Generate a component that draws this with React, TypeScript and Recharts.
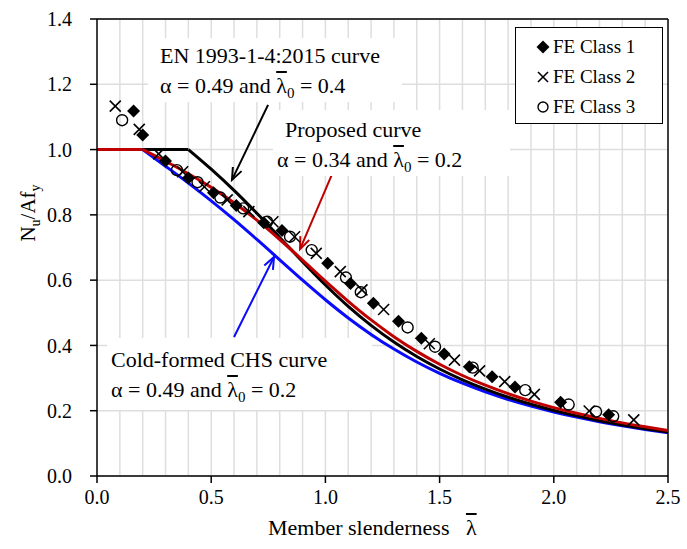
import React from "react";
import {
  ComposedChart,
  Line,
  Scatter,
  XAxis,
  YAxis,
  CartesianGrid,
  ReferenceLine,
  Legend,
} from "recharts";

/* ================= DATA ================= */

// slenderness grid for curves with lambda0 = 0.2
const curveX = [
  0, 0.2, 0.3, 0.4, 0.5, 0.6, 0.7, 0.8, 0.9, 1.0, 1.1, 1.2, 1.3, 1.4, 1.5, 1.6,
  1.7, 1.8, 1.9, 2.0, 2.1, 2.2, 2.3, 2.4, 2.5,
];
const coldFormedY = [
  1, 1, 0.9491, 0.8973, 0.843, 0.7854, 0.7247, 0.6622, 0.5998, 0.5399, 0.4842,
  0.4338, 0.3888, 0.3492, 0.3145, 0.2842, 0.2577, 0.2345, 0.2141, 0.1962,
  0.1803, 0.1662, 0.1537, 0.1425, 0.1325,
];
const proposedY = [
  1, 1, 0.9641, 0.9261, 0.8842, 0.8371, 0.7837, 0.7245, 0.6612, 0.597, 0.5352,
  0.4781, 0.4269, 0.3817, 0.3422, 0.3079, 0.2781, 0.2521, 0.2294, 0.2095,
  0.192, 0.1765, 0.1628, 0.1506, 0.1397,
];

// EN 1993-1-4 curve, lambda0 = 0.4
const enX = [
  0, 0.4, 0.5, 0.6, 0.7, 0.8, 0.9, 1.0, 1.1, 1.2, 1.3, 1.4, 1.5, 1.6, 1.7, 1.8,
  1.9, 2.0, 2.1, 2.2, 2.3, 2.4, 2.5,
];
const enY = [
  1, 1, 0.9398, 0.8748, 0.8047, 0.7309, 0.6565, 0.5852, 0.5197, 0.4613,
  0.4102, 0.3659, 0.3277, 0.2947, 0.2661, 0.2413, 0.2197, 0.2008, 0.1841,
  0.1694, 0.1564, 0.1448, 0.1344,
];

// FE results
const class1X = [
  0.16, 0.2, 0.3, 0.4, 0.51, 0.61, 0.73, 0.81, 1.01, 1.11, 1.21, 1.32, 1.42,
  1.52, 1.63, 1.73, 1.83, 2.03, 2.24,
];
const class1Y = [
  1.118, 1.045, 0.965, 0.913, 0.868, 0.829, 0.776, 0.752, 0.652, 0.59, 0.529,
  0.474, 0.422, 0.374, 0.335, 0.304, 0.273, 0.226, 0.188,
];
const class2X = [
  0.08, 0.185, 0.27, 0.375, 0.47, 0.57, 0.665, 0.77, 0.865, 0.96, 1.065, 1.16,
  1.255, 1.455, 1.565, 1.675, 1.785, 1.915, 2.155, 2.35,
];
const class2Y = [
  1.133, 1.062, 0.987, 0.932, 0.886, 0.846, 0.81, 0.779, 0.733, 0.682, 0.626,
  0.57, 0.51, 0.405, 0.355, 0.322, 0.289, 0.25, 0.199, 0.172,
];
const class3X = [
  0.11, 0.35, 0.44, 0.54, 0.64, 0.745, 0.845, 0.94, 1.09, 1.155, 1.36, 1.48,
  1.645, 1.875, 2.065, 2.185, 2.26,
];
const class3Y = [
  1.09, 0.937, 0.9, 0.853, 0.82, 0.779, 0.733, 0.692, 0.608, 0.563, 0.455,
  0.396, 0.332, 0.263, 0.219, 0.197, 0.183,
];

const xTicks = [0, 0.5, 1.0, 1.5, 2.0, 2.5];
const yTicks = [0, 0.2, 0.4, 0.6, 0.8, 1.0, 1.2, 1.4];
const gridX = [
  0.1, 0.2, 0.3, 0.4, 0.5, 0.6, 0.7, 0.8, 0.9, 1.0, 1.1, 1.2, 1.3, 1.4, 1.5,
  1.6, 1.7, 1.8, 1.9, 2.0, 2.1, 2.2, 2.3, 2.4,
];

const legendNames = ["FE Class 1", "FE Class 2", "FE Class 3"];

/* ================= BUILD ================= */

const zip = (xs: number[], ys: number[]) => xs.map((x, i) => ({ x, y: ys[i] }));

const coldData = zip(curveX, coldFormedY);
const proposedData = zip(curveX, proposedY);
const enData = zip(enX, enY);

const curves = [
  { name: "Cold-formed CHS", data: coldData, color: "#0a0aff" },
  { name: "EN 1993-1-4", data: enData, color: "#000000" },
  { name: "Proposed", data: proposedData, color: "#c00000" },
];

const arrows = [
  { x1: 0.749, y1: 1.137, x2: 0.591, y2: 0.907, color: "#000000" },
  { x1: 1.033, y1: 0.931, x2: 0.889, y2: 0.695, color: "#c00000" },
  { x1: 0.6, y1: 0.426, x2: 0.775, y2: 0.671, color: "#0a0aff" },
];

const FONT = '"Liberation Serif", Tinos, "DejaVu Serif", "Times New Roman", serif';

/* ================= SHAPES ================= */

const Diamond = ({ cx, cy, r = 6.5 }: any) => (
  <polygon
    points={`${cx},${cy - r} ${cx + r},${cy} ${cx},${cy + r} ${cx - r},${cy}`}
    fill="#000"
  />
);

const Cross = ({ cx, cy, r = 5.5 }: any) => (
  <g stroke="#000" strokeWidth={1.6}>
    <line x1={cx - r} y1={cy - r} x2={cx + r} y2={cy + r} />
    <line x1={cx - r} y1={cy + r} x2={cx + r} y2={cy - r} />
  </g>
);

const Ring = ({ cx, cy, r = 5.5 }: any) => (
  <circle cx={cx} cy={cy} r={r} fill="none" stroke="#000" strokeWidth={1.4} />
);

const markers = [Diamond, Cross, Ring];

const arrowShape = (color: string) => (props: any) => {
  const { x1, y1, x2, y2 } = props;
  const ang = Math.atan2(y2 - y1, x2 - x1);
  const len = 13;
  const spread = 0.38;
  const a1 = ang + Math.PI - spread;
  const a2 = ang + Math.PI + spread;
  return (
    <g stroke={color} strokeWidth={2} fill="none">
      <line x1={x1} y1={y1} x2={x2} y2={y2} />
      <polyline
        points={`${x2 + len * Math.cos(a1)},${y2 + len * Math.sin(a1)} ${x2},${y2} ${
          x2 + len * Math.cos(a2)
        },${y2 + len * Math.sin(a2)}`}
      />
    </g>
  );
};

const renderLegend = () => (
  <div style={legendBox}>
    {legendNames.map((name, i) => {
      const M = markers[i];
      return (
        <div key={name} style={legendRow}>
          <svg width={16} height={16} style={{ marginRight: 2 }}>
            <M cx={8} cy={8} r={i === 0 ? 6.5 : 5} />
          </svg>
          <span>{name}</span>
        </div>
      );
    })}
  </div>
);

/* ================= TEXT ================= */

const Lam = () => <span style={{ textDecoration: "overline" }}>λ</span>;

const AlphaLine = ({ alpha, lam0 }: { alpha: string; lam0: string }) => (
  <div style={{ whiteSpace: "nowrap" }}>
    α = {alpha} and <Lam />
    <span style={sub}>0</span> = {lam0}
  </div>
);

const annotations = [
  { title: "EN 1993-1-4:2015 curve", alpha: "0.49", lam0: "0.4", left: 148, top: 38, width: 254, height: 64, padTop: 3, padLeft: 12, indent: 0 },
  { title: "Proposed curve", alpha: "0.34", lam0: "0.2", left: 273, top: 110, width: 237, height: 66, padTop: 5, padLeft: 4, indent: 8 },
  { title: "Cold-formed CHS curve", alpha: "0.49", lam0: "0.2", left: 107, top: 338, width: 265, height: 72, padTop: 7, padLeft: 4, indent: 0 },
];

export default function App() {
  return (
    <div style={page}>
      <ComposedChart
        width={687}
        height={549}
        margin={{ top: 19, right: 19, bottom: 0, left: 37 }}
      >
        <CartesianGrid vertical={false} stroke="#dedede" strokeWidth={1.5} />
        {gridX.map((v) => (
          <ReferenceLine key={v} x={v} stroke="#dedede" strokeWidth={1.5} />
        ))}

        <XAxis
          type="number"
          dataKey="x"
          domain={[0, 2.5]}
          ticks={xTicks}
          tickFormatter={(v) => Number(v).toFixed(1)}
          height={73}
          tickSize={7}
          tickMargin={7}
          stroke="#000"
          strokeWidth={1.5}
          tick={{ fill: "#000", fontSize: 20, fontFamily: FONT }}
          allowDataOverflow
        />
        <YAxis
          type="number"
          dataKey="y"
          domain={[0, 1.4]}
          ticks={yTicks}
          tickFormatter={(v) => Number(v).toFixed(1)}
          width={60}
          tickSize={7}
          tickMargin={18}
          stroke="#000"
          strokeWidth={1.5}
          tick={{ fill: "#000", fontSize: 20, fontFamily: FONT }}
          allowDataOverflow
        />

        <ReferenceLine y={1.4} stroke="#000" strokeWidth={1.5} />
        <ReferenceLine x={2.5} stroke="#000" strokeWidth={1.5} />

        {/* plateau parts, kept linear so the kink stays sharp */}
        {curves.map((c) => (
          <Line
            key={c.name + "-flat"}
            data={c.data.slice(0, 2)}
            dataKey="y"
            type="linear"
            stroke={c.color}
            strokeWidth={3}
            dot={false}
            legendType="none"
            isAnimationActive={false}
          />
        ))}
        {curves.map((c) => (
          <Line
            key={c.name}
            data={c.data.slice(1)}
            dataKey="y"
            type="monotone"
            stroke={c.color}
            strokeWidth={3}
            dot={false}
            legendType="none"
            isAnimationActive={false}
          />
        ))}

        {arrows.map((a, i) => (
          <ReferenceLine
            key={"arrow" + i}
            segment={[
              { x: a.x1, y: a.y1 },
              { x: a.x2, y: a.y2 },
            ]}
            shape={arrowShape(a.color)}
          />
        ))}

        <Scatter
          name="FE Class 1"
          data={zip(class1X, class1Y)}
          dataKey="y"
          shape={(p: any) => <Diamond cx={p.cx} cy={p.cy} />}
          isAnimationActive={false}
        />
        <Scatter
          name="FE Class 2"
          data={zip(class2X, class2Y)}
          dataKey="y"
          shape={(p: any) => <Cross cx={p.cx} cy={p.cy} />}
          isAnimationActive={false}
        />
        <Scatter
          name="FE Class 3"
          data={zip(class3X, class3Y)}
          dataKey="y"
          shape={(p: any) => <Ring cx={p.cx} cy={p.cy} />}
          isAnimationActive={false}
        />

        <Legend
          layout="vertical"
          align="center"
          verticalAlign="middle"
          content={renderLegend}
          wrapperStyle={{ left: 515, top: 27, width: 148, height: 97 }}
        />
      </ComposedChart>

      {/* ANNOTATIONS */}
      {annotations.map((a) => (
        <div
          key={a.title}
          style={{
            ...noteBox,
            left: a.left,
            top: a.top,
            width: a.width,
            height: a.height,
            paddingTop: a.padTop,
            paddingLeft: a.padLeft,
          }}
        >
          <div style={{ paddingLeft: a.indent, whiteSpace: "nowrap" }}>{a.title}</div>
          <AlphaLine alpha={a.alpha} lam0={a.lam0} />
        </div>
      ))}

      {/* AXIS TITLES */}
      <div style={xTitle}>
        Member slenderness&nbsp;&nbsp;&nbsp;<Lam />
      </div>
      <div style={yTitle}>
        N<span style={axisSub}>u</span>/Af<span style={axisSub}>y</span>
      </div>
    </div>
  );
}

/* ================= STYLES ================= */

const page: React.CSSProperties = {
  position: "absolute",
  left: 0,
  top: 0,
  width: 687,
  height: 549,
  background: "#fff",
  fontFamily: FONT,
  color: "#000",
};

const legendBox: React.CSSProperties = {
  boxSizing: "border-box",
  width: 148,
  height: 97,
  background: "#fff",
  border: "1.5px solid #000",
  paddingTop: 4,
  paddingLeft: 19,
  fontFamily: FONT,
  fontSize: 19,
  color: "#000",
};

const legendRow: React.CSSProperties = {
  display: "flex",
  alignItems: "center",
  height: 30,
};

const noteBox: React.CSSProperties = {
  position: "absolute",
  boxSizing: "border-box",
  background: "#fff",
  fontSize: 22,
  lineHeight: "30px",
};

const sub: React.CSSProperties = {
  fontSize: 15,
  position: "relative",
  top: 5,
};

const axisSub: React.CSSProperties = {
  fontSize: 14,
  position: "relative",
  top: 5,
};

const xTitle: React.CSSProperties = {
  position: "absolute",
  left: 268,
  top: 513,
  fontSize: 22,
  lineHeight: "30px",
  whiteSpace: "nowrap",
};

const yTitle: React.CSSProperties = {
  position: "absolute",
  left: -32,
  top: 198,
  width: 120,
  height: 30,
  fontSize: 21,
  lineHeight: "30px",
  textAlign: "center",
  transform: "rotate(-90deg)",
  transformOrigin: "center",
  whiteSpace: "nowrap",
};
